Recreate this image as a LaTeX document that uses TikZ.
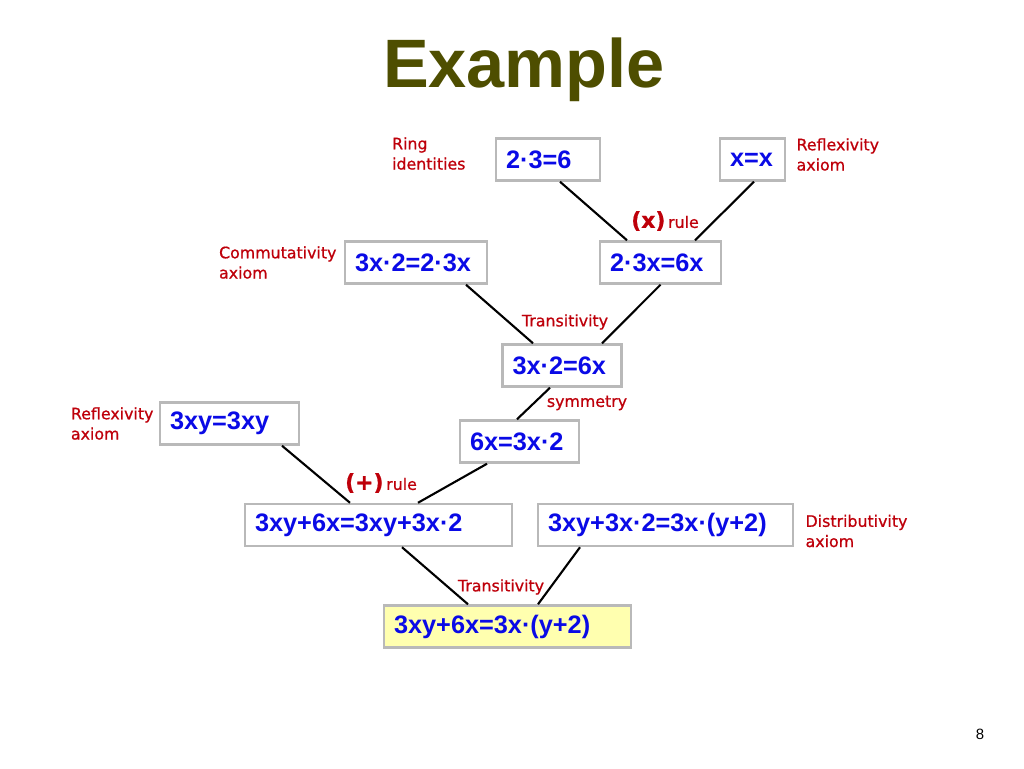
\documentclass[tikz,border=0pt]{standalone}
\usepackage{fontspec}
\setmainfont{Liberation Sans}
\newfontfamily\rulefont[FakeBold=0.8]{DejaVu Sans}
\usetikzlibrary{positioning}

\definecolor{eqblue}{RGB}{10,10,230}
\definecolor{rulered}{RGB}{190,0,10}
\definecolor{boxgray}{RGB}{185,185,185}
\definecolor{titleolive}{RGB}{78,78,0}
\definecolor{goalyellow}{RGB}{255,255,175}

\tikzset{
  eqbox/.style={draw=boxgray, line width=1.4pt, text=eqblue,
    font=\fontsize{14.4}{16}\selectfont\bfseries,
    inner xsep=0.2cm, inner ysep=0pt, minimum height=0.84cm,
    text width=#1, align=left},
  rulelabel/.style={text=rulered, font=\rulefont\fontsize{9}{11.5}\selectfont,
    inner sep=0pt, align=left},
  proofline/.style={line width=1.2pt, black}
}

\begin{document}
\begin{tikzpicture}[x=0.02cm, y=-0.02cm]
    \useasboundingbox (0,0) rectangle (1024,768);
    \node[font=\fontsize{39}{44}\selectfont\bfseries, text=titleolive, anchor=base] (title) at (524,87) {Example};

    % equations
    \node[eqbox=1.68cm] (r1) at (548,159.5) {2·3=6};
    \node[eqbox=0.90cm] (xx) at (752.5,159.5) {x=x};
    \node[eqbox=2.44cm] (comm) at (416,262.5) {3x·2=2·3x};
    \node[eqbox=2.02cm] (n23x) at (660.5,262.5) {2·3x=6x};
    \node[eqbox=1.98cm] (t1) at (562,365.5) {3x·2=6x};
    \node[eqbox=1.98cm] (sym) at (519.5,441.5) {6x=3x·2};
    \node[eqbox=2.38cm] (refl) at (229.5,423.5) {3xy=3xy};
    \node[eqbox=4.94cm] (plus) at (378.5,525) {3xy+6x=3xy+3x·2};
    \node[eqbox=4.70cm] (dist) at (665.5,525) {3xy+3x·2=3x·(y+2)};
    \node[eqbox=4.54cm, fill=goalyellow] (final) at (507.5,626.5) {3xy+6x=3x·(y+2)};

    % axioms
    \node[rulelabel, left=0.58cm of r1, yshift=0.12cm] (ringlbl) {Ring\\identities};
    \node[rulelabel, right=0.2cm of xx, yshift=0.1cm] (refllbl) {Reflexivity\\axiom};
    \node[rulelabel, left=0.14cm of comm] (commlbl) {Commutativity\\axiom};
    \node[rulelabel, left=0.1cm of refl] (refllbltwo) {Reflexivity\\axiom};
    \node[rulelabel, right=0.22cm of dist, yshift=-0.12cm] (distlbl) {Distributivity\\axiom};

    % rules
    \node[rulelabel] (timesrule) at (665,221) {{\bfseries\fontsize{12.5}{14}\selectfont(x)}\,rule};
    \node[rulelabel] (translbl) at (565,322) {Transitivity};
    \node[rulelabel] (symlbl) at (587,403) {symmetry};
    \node[rulelabel] (plusrule) at (381,483) {{\bfseries\fontsize{12.5}{14}\selectfont(+)}\,rule};
    \node[rulelabel] (translbltwo) at (501,587) {Transitivity};

    \draw[proofline] ([xshift=0.24cm]r1.south) -- ([xshift=-0.67cm]n23x.north);
    \draw[proofline] ([xshift=0.03cm]xx.south) -- ([xshift=0.69cm]n23x.north);
    \draw[proofline] ([xshift=1.0cm]comm.south) -- ([xshift=-0.58cm]t1.north);
    \draw[proofline] (n23x.south) -- ([xshift=0.8cm]t1.north);
    \draw[proofline] ([xshift=-0.24cm]t1.south) -- ([xshift=-0.05cm]sym.north);
    \draw[proofline] ([xshift=1.05cm]refl.south) -- ([xshift=-0.57cm]plus.north);
    \draw[proofline] ([xshift=-0.65cm]sym.south) -- ([xshift=0.79cm]plus.north);
    \draw[proofline] ([xshift=0.47cm]plus.south) -- ([xshift=-0.79cm]final.north);
    \draw[proofline] ([xshift=-1.71cm]dist.south) -- ([xshift=0.61cm]final.north);

    \node[font=\fontsize{8.5}{10}\selectfont, anchor=base] (pagenum) at (980,739) {8};
\end{tikzpicture}
\end{document}
